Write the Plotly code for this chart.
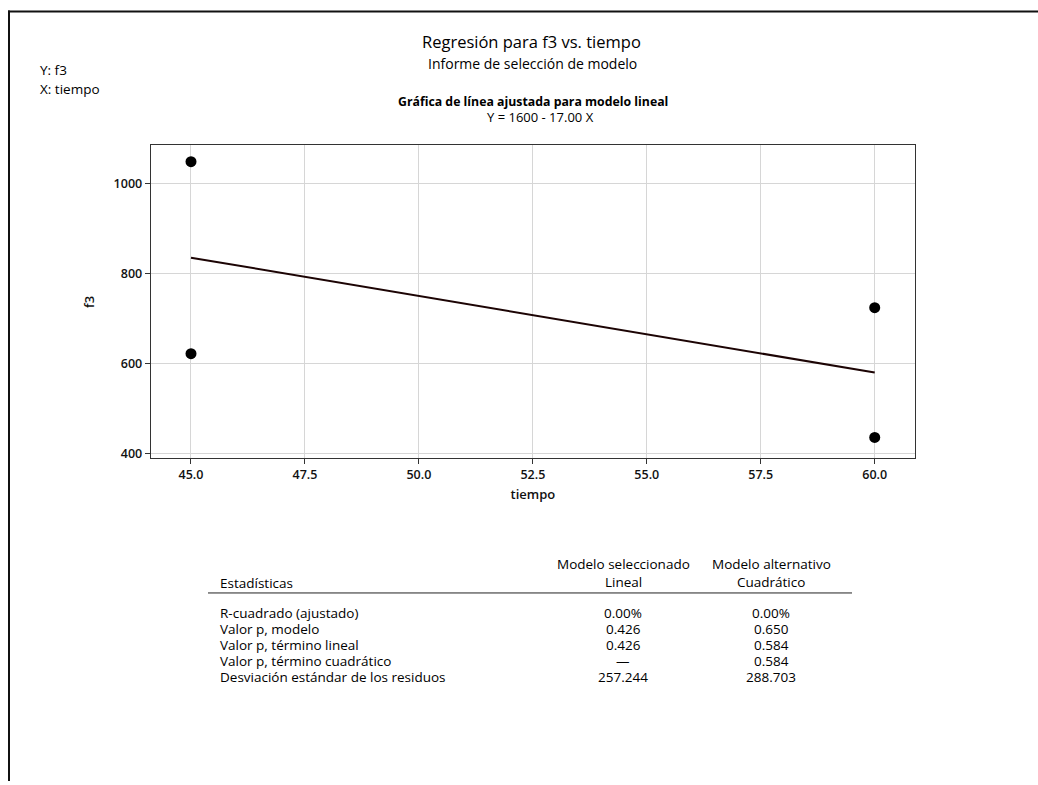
import plotly.graph_objects as go

# Observed data
tiempo = [45, 45, 60, 60]
f3 = [1048, 622, 724, 436]

# Fitted linear model: Y = b0 + b1 X
b0 = 1600.0
b1 = -17.00
fit_x = [45, 60]
fit_y = [b0 + b1 * x for x in fit_x]

# Axis ticks
x_ticks = [45.0, 47.5, 50.0, 52.5, 55.0, 57.5, 60.0]
y_ticks = [400, 600, 800, 1000]

# Model selection table
stat_names = [
    "R-cuadrado (ajustado)",
    "Valor p, modelo",
    "Valor p, término lineal",
    "Valor p, término cuadrático",
    "Desviación estándar de los residuos",
]
linear_vals = ["0.00%", "0.426", "0.426", "—", "257.244"]
quad_vals = ["0.00%", "0.650", "0.584", "0.584", "288.703"]
col_headers = [("Modelo seleccionado", "Lineal"), ("Modelo alternativo", "Cuadrático")]

W, H = 1038, 785
FONT = "Open Sans, Noto Sans, sans-serif"


def px(x):
    return x / W


def py(y):
    return 1 - y / H


fig = go.Figure()

fig.add_trace(go.Scatter(
    x=fit_x, y=fit_y, mode="lines",
    line=dict(color="#1c0404", width=2),
    showlegend=False, hoverinfo="skip",
))
fig.add_trace(go.Scatter(
    x=tiempo, y=f3, mode="markers",
    marker=dict(color="black", size=11),
    showlegend=False,
))

axis_common = dict(
    showline=True, mirror=True, linecolor="#333333", linewidth=1,
    showgrid=True, gridcolor="#d6d6d6", gridwidth=1,
    ticks="outside", ticklen=5, tickcolor="#333333",
    tickfont=dict(family=FONT, size=12.5, color="#111111", weight=600),
    zeroline=False,
)

fig.update_xaxes(
    **axis_common,
    domain=[px(150.7), px(915)],
    range=[44.116, 60.884],
    tickvals=x_ticks, ticktext=[f"{v:.1f}" for v in x_ticks],
    title=dict(text="tiempo", font=dict(family=FONT, size=13, color="#111111", weight=600), standoff=7),
)
fig.update_yaxes(
    **axis_common,
    domain=[py(460.7), py(146)],
    range=[389.6, 1084.5],
    tickvals=y_ticks, ticktext=[str(v) for v in y_ticks],
    title=dict(text="f3", font=dict(family=FONT, size=13, color="#111111", weight=600), standoff=16),
)

ann = []


def text(x, y, s, size=12, weight=400, xanchor="center", color="#000000"):
    ann.append(dict(
        xref="paper", yref="paper", x=px(x), y=py(y), text=s, showarrow=False,
        xanchor=xanchor, yanchor="middle",
        font=dict(family=FONT, size=size, color=color, weight=weight),
    ))


# Titles
text(531, 42, "Regresión para f3 vs. tiempo", size=16.5, weight=500)
text(532, 64, "Informe de selección de modelo", size=14)
text(533, 102, "Gráfica de línea ajustada para modelo lineal", size=12.3, weight=700)
text(540, 118, f"Y = {b0:.0f} - {abs(b1):.2f} X", size=13)
text(38, 70, "Y: f3", size=13.5, xanchor="left")
text(38, 89, "X: tiempo", size=13.5, xanchor="left")

# Table header
text(218, 586, "Estadísticas", size=13.5, xanchor="left")
col_x = [623, 771]
for cx, (h1, h2) in zip(col_x, col_headers):
    text(cx, 567, h1, size=13.5)
    text(cx, 585, h2, size=13.5)

# Table rows
row_y0, row_dy = 616, 16
for i, name in enumerate(stat_names):
    y = row_y0 + i * row_dy
    text(218, y, name, size=13.5, xanchor="left")
    text(col_x[0], y, linear_vals[i], size=13.5)
    text(col_x[1], y, quad_vals[i], size=13.5)

shapes = [
    # header rule
    dict(type="line", xref="paper", yref="paper",
         x0=px(208), x1=px(852), y0=py(596), y1=py(596),
         line=dict(color="#222222", width=1)),
    # page frame
    dict(type="line", xref="paper", yref="paper",
         x0=px(8), x1=1, y0=py(11.5), y1=py(11.5),
         line=dict(color="#111111", width=2)),
    dict(type="line", xref="paper", yref="paper",
         x0=px(9), x1=px(9), y0=py(10.5), y1=0,
         line=dict(color="#111111", width=2)),
]

fig.update_layout(
    width=W, height=H,
    margin=dict(l=0, r=0, t=0, b=0),
    paper_bgcolor="white", plot_bgcolor="white",
    annotations=ann, shapes=shapes,
    font=dict(family=FONT, color="#111111"),
)

fig.write_html("out.html")
